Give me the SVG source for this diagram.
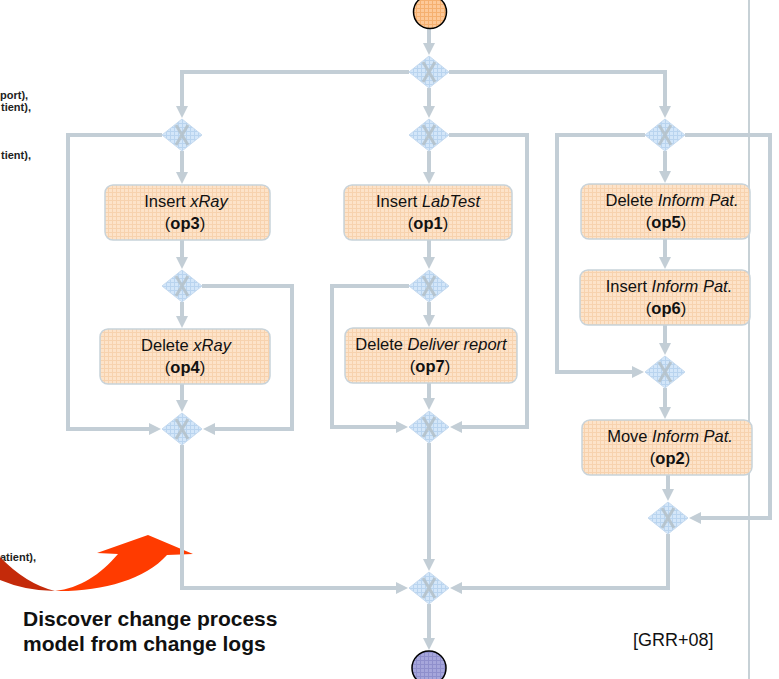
<svg xmlns="http://www.w3.org/2000/svg" width="779" height="679" viewBox="0 0 779 679">
  <defs>
    <!-- fine hatch textures used by activities, gateways and events -->
    <pattern id="hatchOrange" width="4" height="4" patternUnits="userSpaceOnUse">
      <rect width="4" height="4" fill="#fde3c9"/>
      <path d="M0,0.5H4M0.5,0V4" stroke="#f7d2ae" stroke-width="1"/>
    </pattern>
    <pattern id="hatchBlue" width="4" height="4" patternUnits="userSpaceOnUse">
      <rect width="4" height="4" fill="#d3e6f9"/>
      <path d="M0,0.5H4M0.5,0V4" stroke="#b9d4ef" stroke-width="1"/>
    </pattern>
    <pattern id="hatchStart" width="4" height="4" patternUnits="userSpaceOnUse">
      <rect width="4" height="4" fill="#fdc999"/>
      <path d="M0,0.5H4M0.5,0V4" stroke="#f5b070" stroke-width="1"/>
    </pattern>
    <pattern id="hatchEnd" width="4" height="4" patternUnits="userSpaceOnUse">
      <rect width="4" height="4" fill="#a6a6db"/>
      <path d="M0,0.5H4M0.5,0V4" stroke="#8f8fcc" stroke-width="1"/>
    </pattern>
    <marker id="arrow" markerUnits="userSpaceOnUse" markerWidth="13" markerHeight="13" refX="8" refY="6.5" orient="auto">
      <path d="M0,0.5 L12,6.5 L0,12.5 Z" fill="#c3ced6"/>
    </marker>
    <symbol id="gw" overflow="visible">
      <path d="M0,-16 L20,0 L0,16 L-20,0 Z" fill="url(#hatchBlue)" stroke="#c6daef" stroke-width="1"/>
      <path d="M-6,-10 L6,10 M6,-10 L-6,10" stroke="#b3bfc8" stroke-width="3" fill="none" opacity="0.85"/>
    </symbol>
  </defs>
  <style>
    .conn { fill: none; stroke: #c3ced6; stroke-width: 4; }
    .arr { marker-end: url(#arrow); }
    .act { fill: url(#hatchOrange); stroke: #c8d3da; stroke-width: 1.5; }
    .lbl { font-family: "Liberation Sans", Arial, sans-serif; font-size: 16.5px; fill: #111; text-anchor: middle; }
    .lbl tspan.b { font-weight: bold; }
    .side { font-family: "Liberation Sans", Arial, sans-serif; font-size: 11px; font-weight: bold; fill: #222; }
    .caption { font-family: "Liberation Sans", Arial, sans-serif; font-size: 21px; font-weight: bold; fill: #111; }
    .ref { font-family: "Liberation Sans", Arial, sans-serif; font-size: 18px; fill: #111; }
  </style>

  <!-- lane separator -->
  <line x1="749" y1="0" x2="749" y2="679" stroke="#8fa3ad" stroke-width="1"/>

  <!-- log entries along the left edge -->
  <g id="log-entries">
    <text class="side" x="0" y="99">port),</text>
    <text class="side" x="1" y="111">tient),</text>
    <text class="side" x="1" y="159">tient),</text>
    <text class="side" x="0" y="561">atient),</text>
  </g>

  <!-- curved discovery arrow -->
  <g id="discover-arrow">
    <path d="M0,557 Q26,584 55,591 Q26,591 0,580 Z" fill="#c42a0a"/>
    <path d="M55,591 C100,592 145,580 167,555 L193,554 L148,535 L97,553 L118,554 C100,575 80,588 55,591 Z" fill="#ff3b00"/>
  </g>

  <!-- connectors -->
  <g id="connectors">
    <path class="conn arr" d="M429,29 V51"/>
    <path class="conn arr" d="M409,72 H182 V114"/>
    <path class="conn arr" d="M429,88 V114"/>
    <path class="conn arr" d="M449,72 H665 V114"/>

    <path class="conn arr" d="M162,135 H68 V429 H157"/>
    <path class="conn arr" d="M182,151 V180"/>
    <path class="conn arr" d="M182,240 V265"/>
    <path class="conn arr" d="M202,286 H292 V429 H207"/>
    <path class="conn arr" d="M182,302 V324"/>
    <path class="conn arr" d="M182,384 V408"/>
    <path class="conn arr" d="M182,445 V588 H404"/>

    <path class="conn arr" d="M429,151 V180"/>
    <path class="conn arr" d="M449,135 H527 V427 H454"/>
    <path class="conn arr" d="M429,240 V265"/>
    <path class="conn arr" d="M409,286 H332 V427 H404"/>
    <path class="conn arr" d="M429,302 V323"/>
    <path class="conn arr" d="M429,383 V406"/>
    <path class="conn arr" d="M429,443 V567"/>

    <path class="conn arr" d="M645,135 H557 V372 H640"/>
    <path class="conn arr" d="M685,135 H770 V518 H693"/>
    <path class="conn arr" d="M665,151 V179"/>
    <path class="conn arr" d="M665,239 V265"/>
    <path class="conn arr" d="M665,325 V351"/>
    <path class="conn arr" d="M665,388 V415"/>
    <path class="conn arr" d="M668,475 V497"/>
    <path class="conn arr" d="M668,534 V588 H454"/>

    <path class="conn arr" d="M429,604 V646"/>
  </g>

  <!-- events -->
  <g id="start">
    <circle cx="430" cy="12" r="16.5" fill="url(#hatchStart)" stroke="#000" stroke-width="1.5"/>
  </g>
  <g id="end">
    <circle cx="429" cy="668" r="17" fill="url(#hatchEnd)" stroke="#000" stroke-width="1.5"/>
  </g>

  <!-- XOR gateways -->
  <g id="g-split-top"><use href="#gw" x="429" y="72"/></g>
  <g id="g-split-xray"><use href="#gw" x="182" y="135"/></g>
  <g id="g-split-lab"><use href="#gw" x="429" y="135"/></g>
  <g id="g-split-inform"><use href="#gw" x="665" y="135"/></g>
  <g id="g-xray-inner"><use href="#gw" x="182" y="286"/></g>
  <g id="g-lab-inner"><use href="#gw" x="429" y="286"/></g>
  <g id="g-join-xray"><use href="#gw" x="182" y="429"/></g>
  <g id="g-join-lab"><use href="#gw" x="429" y="427"/></g>
  <g id="g-inform-inner"><use href="#gw" x="665" y="372"/></g>
  <g id="g-join-inform"><use href="#gw" x="668" y="518"/></g>
  <g id="g-join-all"><use href="#gw" x="429" y="588"/></g>

  <!-- change operations -->
  <g id="op3">
    <rect class="act" x="105" y="185" width="165" height="55" rx="8"/>
    <text class="lbl" x="186" y="207">Insert <tspan font-style="italic">xRay</tspan></text>
    <text class="lbl" x="185" y="229">(<tspan class="b">op3</tspan>)</text>
  </g>
  <g id="op4">
    <rect class="act" x="100" y="329" width="170" height="55" rx="8"/>
    <text class="lbl" x="186" y="351">Delete <tspan font-style="italic">xRay</tspan></text>
    <text class="lbl" x="185" y="373">(<tspan class="b">op4</tspan>)</text>
  </g>
  <g id="op1">
    <rect class="act" x="344" y="185" width="168" height="55" rx="8"/>
    <text class="lbl" x="428" y="207">Insert <tspan font-style="italic">LabTest</tspan></text>
    <text class="lbl" x="428" y="229">(<tspan class="b">op1</tspan>)</text>
  </g>
  <g id="op7">
    <rect class="act" x="345" y="328" width="172" height="55" rx="8"/>
    <text class="lbl" x="431" y="350">Delete <tspan font-style="italic">Deliver report</tspan></text>
    <text class="lbl" x="430" y="372">(<tspan class="b">op7</tspan>)</text>
  </g>
  <g id="op5">
    <rect class="act" x="581" y="184" width="169" height="55" rx="8"/>
    <text class="lbl" x="672" y="206">Delete <tspan font-style="italic">Inform Pat.</tspan></text>
    <text class="lbl" x="666" y="228">(<tspan class="b">op5</tspan>)</text>
  </g>
  <g id="op6">
    <rect class="act" x="580" y="270" width="170" height="55" rx="8"/>
    <text class="lbl" x="669" y="292">Insert <tspan font-style="italic">Inform Pat.</tspan></text>
    <text class="lbl" x="666" y="314">(<tspan class="b">op6</tspan>)</text>
  </g>
  <g id="op2">
    <rect class="act" x="582" y="420" width="170" height="55" rx="8"/>
    <text class="lbl" x="670" y="442">Move <tspan font-style="italic">Inform Pat.</tspan></text>
    <text class="lbl" x="670" y="464">(<tspan class="b">op2</tspan>)</text>
  </g>

  <!-- captions -->
  <g id="caption">
    <text class="caption" x="23" y="626">Discover change process</text>
    <text class="caption" x="23" y="651">model from change logs</text>
  </g>
  <g id="citation">
    <text class="ref" x="633" y="646">[GRR+08]</text>
  </g>
</svg>
